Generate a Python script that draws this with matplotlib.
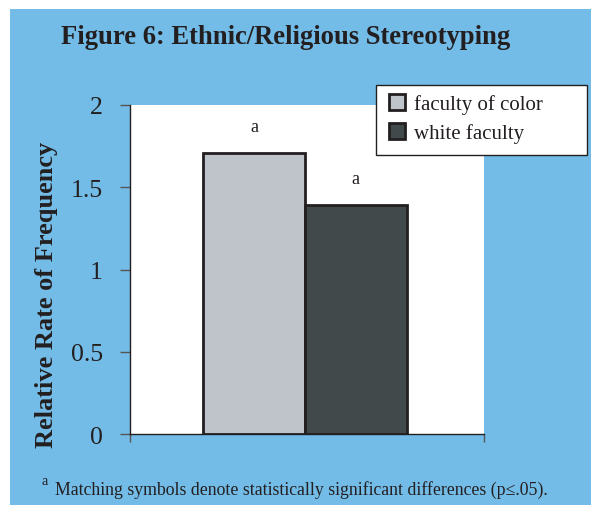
"""Figure 6: Ethnic/Religious Stereotyping - relative rate bar chart."""
import matplotlib
matplotlib.use("Agg")
import matplotlib.pyplot as plt
from matplotlib.patches import Rectangle

plt.rcParams["font.family"] = ["Liberation Serif", "DejaVu Serif"]

GROUPS = ["faculty of color", "white faculty"]
VALUES = [1.71, 1.39]
SIG_MARKS = ["a", "a"]
COLORS = ["#BFC3CA", "#42494B"]
YTICKS = [0, 0.5, 1, 1.5, 2]
YTICK_LABELS = ["0", "0.5", "1", "1.5", "2"]
BLUE = "#73BCE7"
INK = "#231F20"
W, H = 591, 506


def main() -> None:
    fig = plt.figure(figsize=(W / 100, H / 100), dpi=100)
    fig.patch.set_facecolor("white")
    # blue panel behind everything
    fig.patches.append(Rectangle((10 / W, 0), 1 - 10 / W, 1 - 10 / H,
                                 transform=fig.transFigure, facecolor=BLUE,
                                 edgecolor="none", zorder=-10))

    ax = fig.add_axes([130 / W, 1 - 435 / H, 354 / W, 329 / H])
    ax.set_facecolor("white")

    width = 0.288
    center = 0.494
    xs = [center - width / 2, center + width / 2]
    for x, v, c, lab, m in zip(xs, VALUES, COLORS, GROUPS, SIG_MARKS):
        ax.bar(x, v, width=width, color=c, edgecolor=INK, linewidth=2,
               label=lab, zorder=3)
        ax.text(x, v + 0.11, m, ha="center", va="bottom", fontsize=13,
                color=INK)

    ax.set_xlim(0, 1)
    ax.set_ylim(0, 2)
    ax.set_yticks(YTICKS)
    ax.set_yticklabels(YTICK_LABELS, fontsize=18.5, color=INK)
    ax.set_xticks([0, 1])
    ax.set_xticklabels(["", ""])
    ax.tick_params(axis="y", direction="out", length=7.5, width=1,
                   color="#555555", pad=12)
    ax.tick_params(axis="x", direction="out", length=6, width=1,
                   color="#555555")
    for s in ("top", "right"):
        ax.spines[s].set_visible(False)
    for s in ("left", "bottom"):
        ax.spines[s].set_color(INK)
        ax.spines[s].set_linewidth(1)

    ax.set_ylabel("Relative Rate of Frequency", fontsize=19, fontweight="bold",
                  color=INK)
    ax.yaxis.set_label_coords(-0.203, 0.426)

    # legend box drawn by hand: it is wider than the entries
    box = Rectangle((376 / W, 1 - 156 / H), 211 / W, 70 / H,
                    transform=fig.transFigure, facecolor="white",
                    edgecolor=INK, linewidth=1, clip_on=False, zorder=9)
    ax.add_patch(box)
    leg = ax.legend(loc="upper left", bbox_to_anchor=(389 / W, 1 - 95 / H),
                    bbox_transform=fig.transFigure, fontsize=15,
                    frameon=False, handlelength=0.77, handleheight=0.77,
                    handletextpad=0.45, borderpad=0, borderaxespad=0,
                    labelspacing=0.45)
    leg.set_zorder(10)
    for t in leg.get_texts():
        t.set_color(INK)

    fig.text(0.484, 1 - 38 / H, "Figure 6: Ethnic/Religious Stereotyping",
             ha="center", va="center", fontsize=19.2, fontweight="bold",
             color=INK)

    fig.text(42 / W, 1 - 485 / H, "a", fontsize=10, color=INK,
             ha="left", va="baseline")
    fig.text(55 / W, 1 - 495 / H,
             "Matching symbols denote statistically significant differences (p\u2264.05).",
             fontsize=12.75, color=INK, ha="left", va="baseline")

    fig.savefig("out.png", dpi=100, facecolor=fig.get_facecolor())
    plt.close(fig)


if __name__ == "__main__":
    main()
